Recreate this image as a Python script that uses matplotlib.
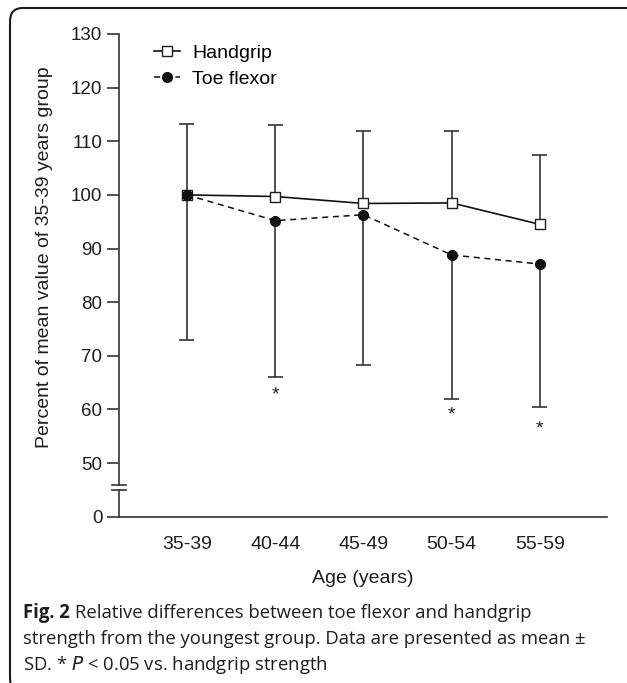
import numpy as np
import matplotlib
matplotlib.use("Agg")
import matplotlib.pyplot as plt
from matplotlib.patches import FancyBboxPatch

# ---- data ----
age_groups = ["35-39", "40-44", "45-49", "50-54", "55-59"]
handgrip_mean = [100.0, 99.7, 98.4, 98.5, 94.5]
handgrip_sd = [13.3, 13.3, 13.5, 13.5, 13.0]
toe_mean = [100.0, 95.2, 96.3, 88.8, 87.1]
toe_sd = [27.0, 29.1, 28.1, 26.8, 26.6]
sig_groups = ["40-44", "50-54", "55-59"]
sig_y = [62.7, 58.9, 56.4]
yticks_top = [50, 60, 70, 80, 90, 100, 110, 120, 130]
yticks_bottom = [0]
caption_lines = [
    "Relative differences between toe flexor and handgrip",
    "strength from the youngest group. Data are presented as mean \u00b1",
    "SD. * $\\it{P}$ < 0.05 vs. handgrip strength",
]

W, H = 627, 683
fig = plt.figure(figsize=(W / 100, H / 100), dpi=100)
plt.rcParams["font.family"] = ["Liberation Sans", "DejaVu Sans"]
INK = "#1e1e1e"
AXC = "#333333"

def fx(px):
    return px / W

def fy(py):
    return 1 - py / H

left, right = 119, 607
ax = fig.add_axes([fx(left), fy(484.5), fx(right - left), fy(34) - fy(484.5)])
axb = fig.add_axes([fx(left), fy(516.7), fx(right - left), fy(490) - fy(516.7)])

x = np.arange(len(age_groups))
for a in (ax, axb):
    a.set_xlim(-0.77, 4.76)
    a.spines["top"].set_visible(False)
    a.spines["right"].set_visible(False)
    for s in a.spines.values():
        s.set_linewidth(1.2)
        s.set_color(AXC)
    a.tick_params(axis="y", length=9, width=1.2, color=AXC,
                  labelsize=13.5, pad=3, labelcolor=INK)
ax.spines["bottom"].set_visible(False)
ax.set_ylim(46, 130)
ax.set_yticks(yticks_top)
ax.set_xticks([])
axb.set_ylim(0, 5)
axb.set_yticks(yticks_bottom)
axb.set_xticks(x)
axb.set_xticklabels(age_groups)
axb.tick_params(axis="x", length=0, labelsize=14, pad=14, labelcolor=INK)
axb.set_xlabel("Age (years)", fontsize=14, color=INK)
axb.xaxis.set_label_coords(0.5, (516.7 - 578) / 26.7)
axb.xaxis.label.set_va("center")
ax.set_ylabel("Percent of mean value of 35-39 years group", fontsize=14, color=INK)
ax.yaxis.set_label_coords((45 - left) / (right - left), 0.505)
ax.yaxis.label.set_va("center")

# break marks
ax.axhline(46, xmin=-0.0135, xmax=0.0135, color=AXC, lw=1.2, clip_on=False)
axb.axhline(5, xmin=-0.0135, xmax=0.0135, color=AXC, lw=1.2, clip_on=False)

hm = np.array(handgrip_mean)
hs = np.array(handgrip_sd)
tm = np.array(toe_mean)
ts = np.array(toe_sd)
cap = 0.085

# error bars: handgrip upward, toe flexor downward
ax.vlines(x, hm, hm + hs, color=AXC, lw=1.2, zorder=1)
ax.hlines(hm + hs, x - cap, x + cap, color=AXC, lw=1.2, zorder=1)
ax.vlines(x, tm - ts, tm, color=AXC, lw=1.2, zorder=1)
ax.hlines(tm - ts, x - cap, x + cap, color=AXC, lw=1.2, zorder=1)

ax.plot(x, hm, "-", color="#111111", lw=1.2, marker="s", markersize=6.5,
        markerfacecolor="white", markeredgecolor=INK, markeredgewidth=1.0,
        label="Handgrip", zorder=3)
ax.plot(x, tm, "--", color="#111111", lw=1.1, dashes=(4, 3), marker="o",
        markersize=7, markerfacecolor="#111111", markeredgecolor="#111111",
        label="Toe flexor", zorder=4)

for g, yv in zip(sig_groups, sig_y):
    ax.text(age_groups.index(g), yv, "*", ha="center", va="center",
            fontsize=14, color=INK)

fs_leg = 14 * 100 / 72
ax.legend(loc="upper left", bbox_to_anchor=((154 - left) / (right - left), 0.977),
          frameon=False, fontsize=14, handlelength=26 / fs_leg,
          handletextpad=12 / fs_leg, labelspacing=0.41, borderaxespad=0,
          borderpad=0)

# rounded frame (clipped by the image on right and bottom)
box = FancyBboxPatch((fx(10), fy(692)), fx(660) - fx(10), fy(8) - fy(692),
                     boxstyle="round,pad=0,rounding_size=0.02",
                     transform=fig.transFigure, fill=False,
                     edgecolor=INK, lw=1.5, clip_on=False)
fig.patches.append(box)

# caption: fit line 2 to its width in the reference
cap_font = ["Open Sans", "DejaVu Sans"]
cx0, cx1 = 23, 589
probe = fig.text(0, 0, caption_lines[1], fontsize=14, family=cap_font, alpha=0)
fig.canvas.draw()
rend = fig.canvas.get_renderer()
wprobe = probe.get_window_extent(rend).width
probe.remove()
cfs = 14 * (cx1 - cx0) / wprobe

ys = [613, 639, 665]
t0 = fig.text(fx(cx0), fy(ys[0]), "Fig. 2", fontsize=cfs, fontweight="bold",
              family=cap_font, va="center", color=INK)
bb = t0.get_window_extent(rend)
fig.text(bb.x1 / W + 0.3 * cfs / 72 * 100 / W, fy(ys[0]), caption_lines[0],
         fontsize=cfs, family=cap_font, va="center", color=INK)
for yy, line in zip(ys[1:], caption_lines[1:]):
    fig.text(fx(cx0), fy(yy), line, fontsize=cfs, family=cap_font,
             va="center", color=INK)

fig.savefig("out.png", dpi=100)
